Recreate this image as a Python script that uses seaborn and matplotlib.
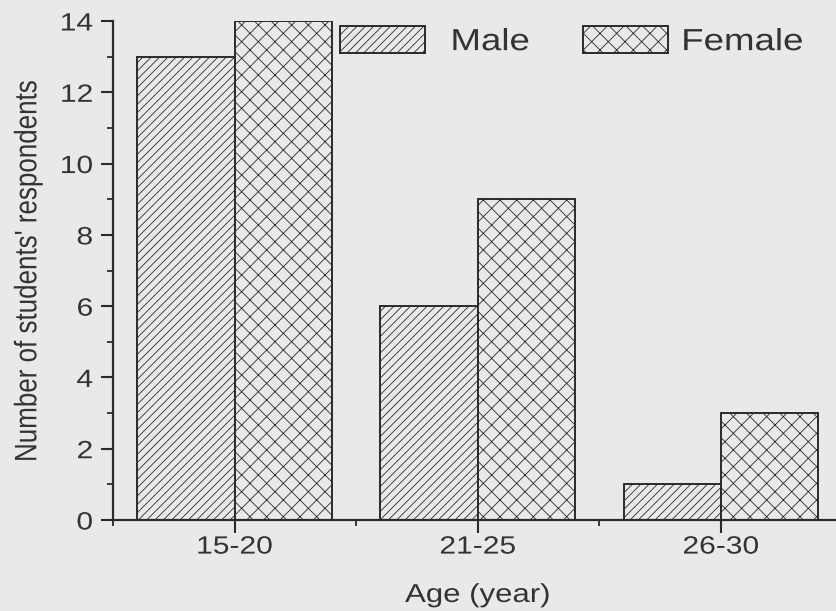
import matplotlib
matplotlib.use("Agg")
import matplotlib.pyplot as plt
import seaborn as sns
import pandas as pd
from matplotlib.ticker import MultipleLocator, FixedLocator
from matplotlib.patheffects import AbstractPathEffect
from matplotlib.transforms import Affine2D

age_groups = ["15-20", "21-25", "26-30"]
male = [13, 6, 1]
female = [14, 9, 3]
genders = ["Male", "Female"]

df = pd.DataFrame({
    "Age": age_groups * 2,
    "Count": male + female,
    "Gender": [genders[0]] * len(age_groups) + [genders[1]] * len(age_groups),
})

bg = "#e8e9eb"
ink = "#2a2a2a"
txt = "#333333"


class WideGlyphs(AbstractPathEffect):
    """Draw text glyphs widened horizontally, keeping one edge (or the centre) fixed."""

    def __init__(self, sx=1.2, anchor="center"):
        super().__init__()
        self.sx = sx
        self.anchor = anchor

    def draw_path(self, renderer, gc, tpath, affine, rgbFace=None):
        ext = tpath.get_extents(affine)
        if self.anchor == "left":
            cx = ext.x0
        elif self.anchor == "right":
            cx = ext.x1
        else:
            cx = 0.5 * (ext.x0 + ext.x1)
        t = affine + Affine2D().translate(-cx, 0).scale(self.sx, 1).translate(cx, 0)
        renderer.draw_path(gc, tpath, t, rgbFace)


sns.set_theme(style="ticks")
plt.rcParams["font.family"] = ["Liberation Sans", "DejaVu Sans"]
plt.rcParams["hatch.linewidth"] = 0.6
plt.rcParams["hatch.color"] = ink

fig = plt.figure(figsize=(8.37, 6.11), dpi=100, facecolor=bg)
ax = fig.add_axes([113 / 837, 91 / 611, (842.5 - 113) / 837, 499 / 611])
ax.set_facecolor(bg)

sns.barplot(data=df, x="Age", y="Count", hue="Gender", order=age_groups,
            hue_order=genders, palette=[bg, bg], width=0.8,
            edgecolor=ink, linewidth=1.4, saturation=1, ax=ax, legend=False)

# diagonal lines for male, cross-hatching for female
hatches = {"Male": "////", "Female": "xx"}
for container, g in zip(ax.containers, genders):
    for bar in container:
        bar.set_hatch(hatches[g])
        bar.set_edgecolor(ink)

ax.set_xlim(-0.5, 2.5)
ax.set_ylim(0, 14)
ax.yaxis.set_major_locator(MultipleLocator(2))
ax.yaxis.set_minor_locator(MultipleLocator(1))
ax.xaxis.set_minor_locator(FixedLocator([-0.5, 0.5, 1.5, 2.5]))

for s in ["top", "right"]:
    ax.spines[s].set_visible(False)
for s in ["left", "bottom"]:
    ax.spines[s].set_color(ink)
    ax.spines[s].set_linewidth(1.6)

ax.tick_params(axis="both", which="major", direction="out", length=9,
               width=1.5, color=ink, labelsize=18, labelcolor=txt)
ax.tick_params(axis="x", which="major", pad=1.5)
ax.tick_params(axis="y", which="major", pad=5.4)
ax.tick_params(axis="both", which="minor", direction="out", length=4.5,
               width=1.3, color=ink)

ax.set_xlabel("Age (year)", fontsize=18.7, color=txt)
ax.set_ylabel("Number of students' respondents", fontsize=18.7, color=txt)
ax.xaxis.set_label_coords(0.5, (520 - 583) / 499)
ax.yaxis.set_label_coords((40 - 113) / 729.5, 0.5)

# one legend entry per gender, each placed on its own
legend_spots = {"Male": (340, 0.85), "Female": (583, 0.45)}
legends = []
for container, g in zip(ax.containers, genders):
    left, pad = legend_spots[g]
    leg = ax.legend(handles=[container.patches[0]], labels=[g],
                    loc="upper left", bbox_to_anchor=(left / 837, 1 - 26 / 611),
                    bbox_transform=fig.transFigure, frameon=False,
                    fontsize=22, handlelength=2.78, handleheight=1.0,
                    handletextpad=pad, borderpad=0, borderaxespad=0,
                    labelcolor=txt)
    for t in leg.get_texts():
        t.set_path_effects([WideGlyphs(anchor="left")])
    legends.append(leg)
for leg in legends[:-1]:
    ax.add_artist(leg)

for lab in ax.get_xticklabels():
    lab.set_path_effects([WideGlyphs(anchor="center")])
for lab in ax.get_yticklabels():
    lab.set_path_effects([WideGlyphs(anchor="right")])
ax.xaxis.label.set_path_effects([WideGlyphs(anchor="center")])
ax.yaxis.label.set_path_effects([WideGlyphs(anchor="center")])

fig.savefig("out.png", dpi=100, facecolor=bg)
